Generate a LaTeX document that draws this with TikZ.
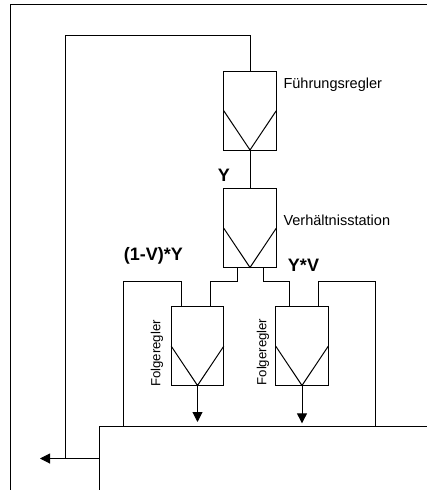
\documentclass[tikz,border=0pt]{standalone}
\usepackage{fontspec}
\setmainfont{Liberation Sans}
\usetikzlibrary{arrows.meta}
\tikzset{
  reglerbox/.style={draw,minimum width=39.4pt,minimum height=58.9pt,inner sep=0pt,outer sep=0pt},
  sidelabel/.style={anchor=base west,inner sep=0pt,font=\fontsize{10.9}{12}\selectfont},
  vertlabel/.style={rotate=90,inner sep=0pt,font=\fontsize{9.9}{12}\selectfont},
  signallabel/.style={anchor=base,inner sep=0pt,font=\fontsize{13.5}{15}\selectfont\bfseries}
}
\begin{document}
\begin{tikzpicture}[x=0.75pt,y=-0.75pt,line width=0.75pt,>={Triangle[width=7.5pt,length=7.5pt]}]
\useasboundingbox (0,0) rectangle (427,490);
\clip (0,0) rectangle (427,490);
% ---------- outer frame and plant ----------
\node[draw,inner sep=0pt,outer sep=0pt,minimum width=329.6pt,minimum height=379.1pt] (frame) at (230.25,257.25) {};
\node[draw,inner sep=0pt,outer sep=0pt,minimum width=255.4pt,minimum height=63pt] (plant) at (269.75,468) {};
% ---------- controllers ----------
\node[reglerbox] (fuehrung) at (250,110.75) {};
\node[reglerbox] (station) at (250,228.2) {};
\node[reglerbox] (folgeA) at (197.5,346.2) {};
\node[reglerbox] (folgeB) at (302,346.2) {};
% V inside each box
\foreach \r in {fuehrung,station,folgeA,folgeB}
  \draw (\r.west) -- (\r.south) -- (\r.east);
% ---------- labels ----------
\node[sidelabel] (lblfuehrung) at (283,88) {Führungsregler};
\node[sidelabel] (lblstation) at (283,225) {Verhältnisstation};
\node[vertlabel] (lblfolgeA) at (157,353.5) {Folgeregler};
\node[vertlabel] (lblfolgeB) at (263,352) {Folgeregler};
\node[signallabel] (lbly) at (224,181.7) {Y};
\node[signallabel] (lblminus) at (153.5,260) {(1-V)*Y};
\node[signallabel] (lblyv) at (303.5,271.7) {Y*V};
% ---------- connector ends ----------
\coordinate (stationL) at (237,267.5);
\coordinate (stationR) at (263,267.5);
\coordinate (folgeAin) at (210.5,307);
\coordinate (folgeBin) at (289,307);
\coordinate (folgeAfb) at (181,307);
\coordinate (folgeBfb) at (318,307);
\coordinate (plantL) at (123,426);
\coordinate (plantR) at (375,426);
\coordinate (ruecklauf) at (65,458.5);
\coordinate (ausgang) at (40,458.5);
% ---------- connectors ----------
\draw (fuehrung.south) -- (station.north);
\draw (stationL) -- ++(0,13.5) -| (folgeAin);
\draw (stationR) -- ++(0,13.5) -| (folgeBin);
\draw (folgeAfb) -- ++(0,-26) -| (plantL);
\draw (folgeBfb) -- ++(0,-26) -| (plantR);
\draw (fuehrung.north) -- ++(0,-35.5) -| (ruecklauf);
\draw[->] (plant.west |- ruecklauf) -- (ausgang);
\draw[->,shorten >=3pt] (folgeA.south) -- (folgeA.south |- plant.north);
\draw[->,shorten >=2pt] (folgeB.south) -- (folgeB.south |- plant.north);
\end{tikzpicture}
\end{document}
